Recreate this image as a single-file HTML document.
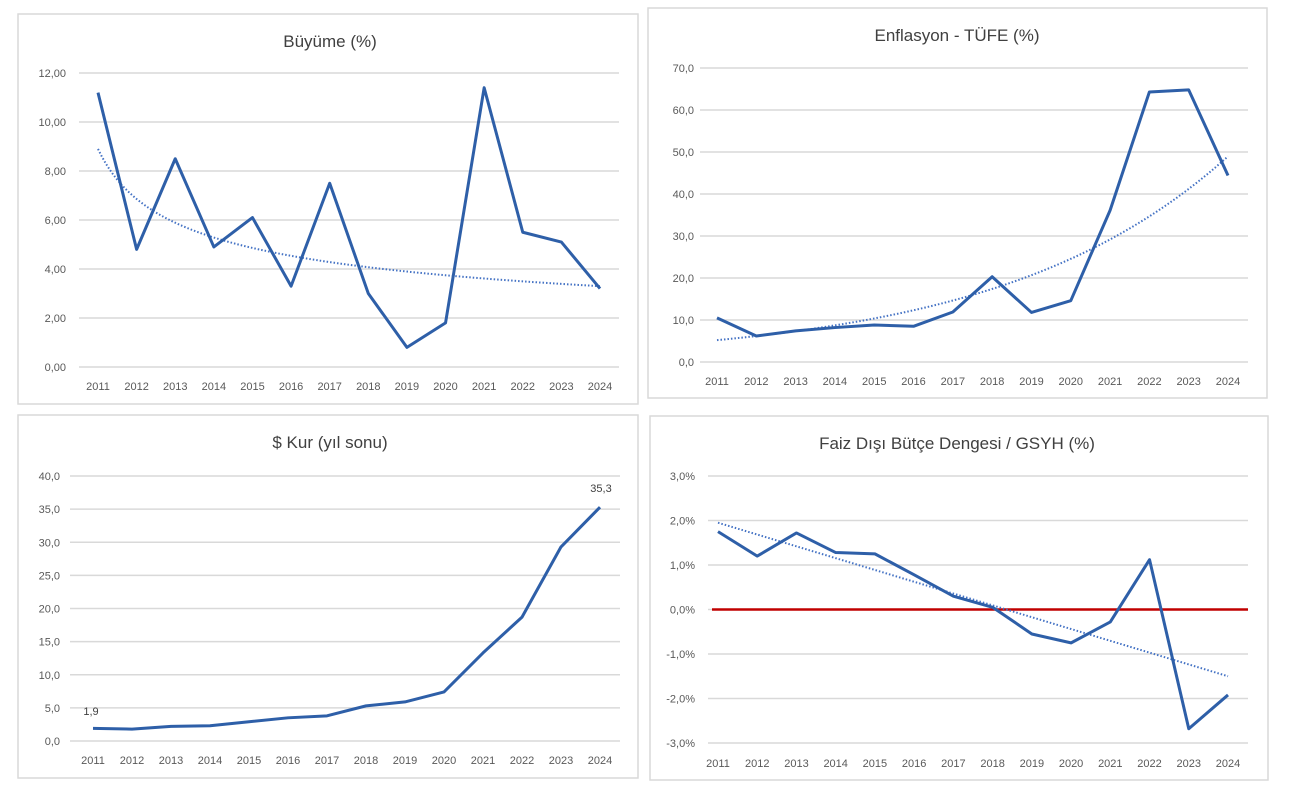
<!DOCTYPE html>
<html><head><meta charset="utf-8"><style>
html,body{margin:0;padding:0;background:#fff;}
svg{display:block;font-family:"Liberation Sans",Arial,sans-serif;}
</style></head><body>
<svg id="s" width="1294" height="804" xmlns="http://www.w3.org/2000/svg"></svg>
<script>
const s=document.getElementById('s');let h='';
function panel(o){
 h+=`<rect x="${o.bx}" y="${o.by}" width="${o.bw}" height="${o.bh}" fill="#fff" stroke="#d9d9d9" stroke-width="1.5"/>`;
 h+=`<text x="${o.tx}" y="${o.ty}" font-size="17" fill="#404040" text-anchor="middle">${o.title}</text>`;
 const Y=v=>o.y0+(v-o.vmin)*(o.y1-o.y0)/(o.vmax-o.vmin);
 const X=i=>o.x0+i*(o.x1-o.x0)/13;
 for(let v=o.vmin;v<=o.vmax+1e-9;v+=o.step){
  h+=`<line x1="${o.gx0}" x2="${o.gx1}" y1="${Y(v)}" y2="${Y(v)}" stroke="#d9d9d9" stroke-width="1.5"/>`;
  h+=`<text x="${o.lx}" y="${Y(v)+4}" font-size="11" fill="#595959" text-anchor="end">${o.fmt(v)}</text>`;
 }
 for(let i=0;i<14;i++)h+=`<text x="${X(i)}" y="${o.yl}" font-size="11" fill="#595959" text-anchor="middle">${2011+i}</text>`;
 if(o.red)h+=`<line x1="${o.gx0+4}" x2="${o.gx1}" y1="${Y(0)}" y2="${Y(0)}" stroke="#c00000" stroke-width="2.5"/>`;
 if(o.trend){let p=[];for(let t=0;t<=130;t++){p.push(X(t/10)+','+Y(o.trend(t/10)));}
  h+=`<polyline points="${p.join(' ')}" fill="none" stroke="#4472c4" stroke-width="2" stroke-dasharray="1.5,2"/>`;}
 h+=`<polyline points="${o.d.map((v,i)=>X(i)+','+Y(v)).join(' ')}" fill="none" stroke="#2e5fa8" stroke-width="3" stroke-linejoin="round"/>`;
 if(o.extra)h+=o.extra;
}
panel({bx:18,by:14,bw:620,bh:390,title:'Büyüme (%)',tx:330,ty:47,vmin:0,vmax:12,step:2,y0:367,y1:73,x0:98,x1:600,gx0:79,gx1:619,lx:66,yl:390,
 fmt:v=>v.toFixed(2).replace('.',','),d:[11.2,4.8,8.5,4.9,6.1,3.3,7.5,3.0,0.8,1.8,11.4,5.5,5.1,3.2],
 trend:t=>8.9*Math.pow(t+1,-0.376)});
panel({bx:648,by:8,bw:619,bh:390,title:'Enflasyon - TÜFE (%)',tx:957,ty:41,vmin:0,vmax:70,step:10,y0:362,y1:68,x0:717,x1:1228,gx0:700,gx1:1248,lx:694,yl:385,
 fmt:v=>v.toFixed(1).replace('.',','),d:[10.5,6.2,7.4,8.2,8.8,8.5,11.9,20.3,11.8,14.6,36.1,64.3,64.8,44.4],
 trend:t=>5.2*Math.exp(0.1725*t)});
panel({bx:18,by:415,bw:620,bh:363,title:'$ Kur (yıl sonu)',tx:330,ty:448,vmin:0,vmax:40,step:5,y0:741,y1:476,x0:93,x1:600,gx0:70,gx1:620,lx:60,yl:764,
 fmt:v=>v.toFixed(1).replace('.',','),d:[1.9,1.8,2.2,2.3,2.9,3.5,3.8,5.3,5.9,7.4,13.3,18.7,29.3,35.3],
 extra:`<text x="91" y="715" font-size="11" fill="#404040" text-anchor="middle">1,9</text><text x="601" y="492" font-size="11" fill="#404040" text-anchor="middle">35,3</text>`});
panel({bx:650,by:416,bw:618,bh:364,title:'Faiz Dışı Bütçe Dengesi / GSYH (%)',tx:957,ty:449,vmin:-3,vmax:3,step:1,y0:743,y1:476,x0:718,x1:1228,gx0:708,gx1:1248,lx:695,yl:767,red:true,
 fmt:v=>(Math.abs(v)<1e-9?'0,0':v.toFixed(1).replace('.',','))+'%',d:[1.75,1.2,1.72,1.28,1.25,0.78,0.3,0.05,-0.55,-0.75,-0.28,1.12,-2.68,-1.92],
 trend:t=>1.95-3.45*t/13});
s.innerHTML=h;
</script>
</body></html>
